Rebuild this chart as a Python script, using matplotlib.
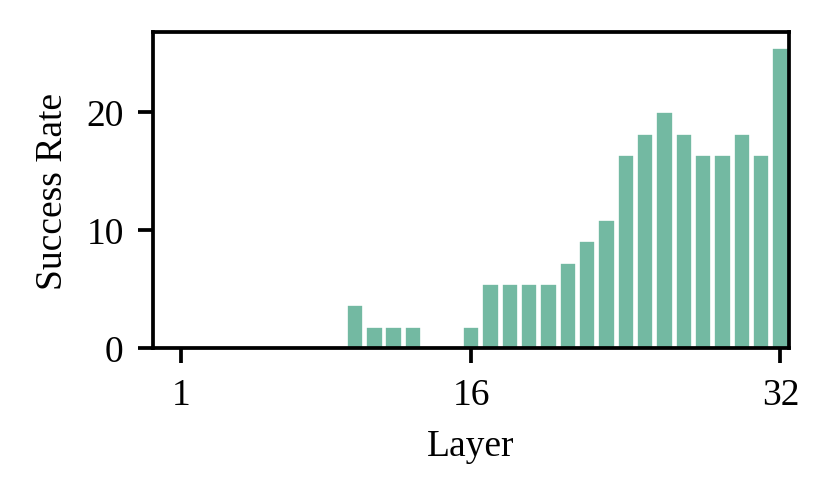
import numpy as np
import matplotlib.pyplot as plt

plt.rcParams["font.family"] = ["Liberation Serif", "DejaVu Serif"]
plt.rcParams["font.size"] = 9

layers = np.arange(1, 33)
# success counts, in units of 100/55 %
success_rate = np.array([
    0, 0, 0, 0, 0, 0, 0, 0, 0, 3.64, 1.82, 1.82, 1.82, 0, 0, 1.82,
    5.45, 5.45, 5.45, 5.45, 7.27, 9.09, 10.91, 16.36, 18.18, 20.0,
    18.18, 16.36, 16.36, 18.18, 16.36, 25.45,
])
xticks = [1, 16, 32]

fig, ax = plt.subplots(figsize=(2.77, 1.663), dpi=300)
ax.bar(layers, success_rate, width=0.85, color="#73b9a2", edgecolor="white", linewidth=0.4)

ax.set_xlim(-0.45, 32.42)
ax.set_ylim(0, 26.8)
ax.set_xticks(xticks)
ax.set_yticks([0, 10, 20])
ax.set_xlabel("Layer")
ax.set_ylabel("Success Rate")
for s in ax.spines.values():
    s.set_linewidth(0.9)
ax.tick_params(width=0.9, length=3.5)

plt.subplots_adjust(left=0.184, right=0.949, top=0.934, bottom=0.3)
plt.savefig("out.png", dpi=300)
